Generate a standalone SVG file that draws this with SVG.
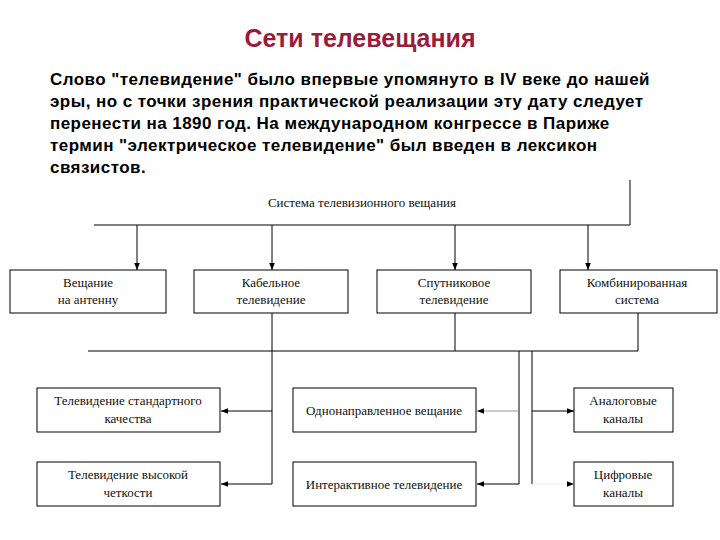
<svg xmlns="http://www.w3.org/2000/svg" width="720" height="540" viewBox="0 0 720 540">
<defs>
<style>
.t{font-family:"Liberation Serif",serif;font-size:13px;fill:#111;text-anchor:middle}
.p{font-family:"Liberation Sans",Arial,sans-serif;font-size:17px;font-weight:bold;fill:#000;letter-spacing:0.45px}
.b{fill:#fff;stroke:#000;stroke-width:1}
.c line,.c path{stroke:#000;stroke-width:1;fill:none}
</style>
<marker id="a" viewBox="0 0 10 10" refX="10" refY="5" markerWidth="7" markerHeight="7" orient="auto"><path d="M0,1L10,5L0,9z" fill="#000"/></marker>
</defs>
<rect width="720" height="540" fill="#fff"/>
<text x="360" y="47" text-anchor="middle" font-family="Liberation Sans,Arial,sans-serif" font-size="25" font-weight="bold" fill="#9b1b3c">Сети телевещания</text>
<g class="p">
<text x="50" y="85">Слово "телевидение" было впервые упомянуто в IV веке до нашей</text>
<text x="50" y="107">эры, но с точки зрения практической реализации эту дату следует</text>
<text x="50" y="129">перенести на 1890 год. На международном конгрессе в Париже</text>
<text x="50" y="151">термин "электрическое телевидение" был введен в лексикон</text>
<text x="50" y="173">связистов.</text>
</g>
<text id="root" class="t" x="362" y="207">Система телевизионного вещания</text>
<g class="c">
<path d="M630,180V225H94"/>
<line x1="137" y1="225" x2="137" y2="270" marker-end="url(#a)"/>
<line x1="272" y1="225" x2="272" y2="270" marker-end="url(#a)"/>
<line x1="455" y1="225" x2="455" y2="270" marker-end="url(#a)"/>
<line x1="588" y1="225" x2="588" y2="270" marker-end="url(#a)"/>
<path d="M455,313V351M638,313V351H88"/>
<path d="M272,313V484"/>
<line x1="272" y1="411" x2="221" y2="411" marker-end="url(#a)"/>
<line x1="272" y1="484" x2="221" y2="484" marker-end="url(#a)"/>
<path d="M519,351V484M532,351V484"/>
<line x1="519" y1="411" x2="477" y2="411" marker-end="url(#a)" style="stroke:#999"/>
<line x1="519" y1="484" x2="477" y2="484" marker-end="url(#a)"/>
<line x1="532" y1="411" x2="574" y2="411" marker-end="url(#a)"/>
<line x1="532" y1="484" x2="574" y2="484" marker-end="url(#a)" style="stroke:#eee"/>
</g>
<g id="n1"><rect class="b" x="10" y="270" width="156" height="43"/><text class="t" x="88" y="287">Вещание</text><text class="t" x="88" y="304">на антенну</text></g>
<g id="n2"><rect class="b" x="194" y="270" width="154" height="43"/><text class="t" x="271" y="287">Кабельное</text><text class="t" x="271" y="304">телевидение</text></g>
<g id="n3"><rect class="b" x="377" y="270" width="154" height="43"/><text class="t" x="454" y="287">Спутниковое</text><text class="t" x="454" y="304">телевидение</text></g>
<g id="n4"><rect class="b" x="560" y="270" width="157" height="43"/><text class="t" x="637" y="287">Комбинированная</text><text class="t" x="637" y="304">система</text></g>
<g id="n5"><rect class="b" x="37" y="388" width="183" height="44"/><text class="t" x="128" y="405">Телевидение стандартного</text><text class="t" x="128" y="423">качества</text></g>
<g id="n6"><rect class="b" x="37" y="462" width="183" height="44"/><text class="t" x="128" y="479">Телевидение высокой</text><text class="t" x="128" y="497">четкости</text></g>
<g id="n7"><rect class="b" x="293" y="388" width="183" height="44"/><text class="t" x="384" y="415">Однонаправленное вещание</text></g>
<g id="n8"><rect class="b" x="293" y="462" width="183" height="44"/><text class="t" x="384" y="489">Интерактивное телевидение</text></g>
<g id="n9"><rect class="b" x="574" y="388" width="99" height="44"/><text class="t" x="623" y="405">Аналоговые</text><text class="t" x="623" y="423">каналы</text></g>
<g id="n10"><rect class="b" x="574" y="462" width="99" height="44"/><text class="t" x="623" y="479">Цифровые</text><text class="t" x="623" y="497">каналы</text></g>
</svg>
